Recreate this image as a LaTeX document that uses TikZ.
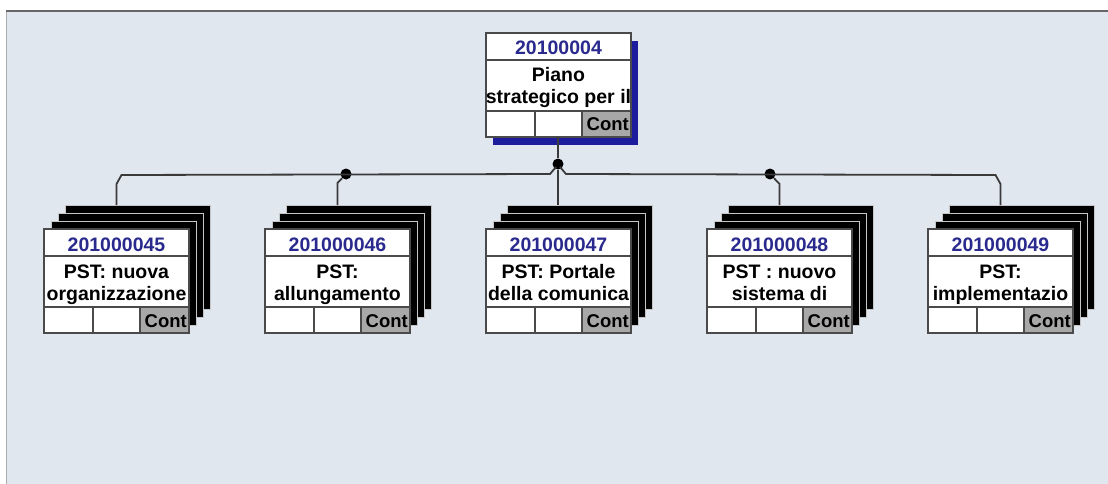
\documentclass[tikz,border=0pt]{standalone}
\usepackage{fontspec}
\setmainfont{Liberation Sans}
\usetikzlibrary{calc}
\definecolor{bgc}{HTML}{E1E7EF}
\definecolor{idblue}{HTML}{2A2A8E}
\definecolor{shadowblue}{HTML}{1C1C9C}
\definecolor{cellgrey}{HTML}{A8A8A8}
\definecolor{framegrey}{HTML}{4A4A4A}
\definecolor{wirec}{HTML}{3A3A3A}
\tikzset{
 cardbox/.style={draw=framegrey, line width=1.5pt, fill=white, minimum width=145pt, minimum height=104pt, inner sep=0pt, outer sep=0pt, anchor=north west},
 stackbox/.style={draw=gray!45, line width=0.7pt, fill=black, minimum width=145pt, minimum height=104pt, inner sep=0pt, outer sep=0pt, anchor=north west},
 shadowbox/.style={fill=shadowblue, minimum width=145pt, minimum height=104pt, inner sep=0pt, outer sep=0pt, anchor=north west},
 idtext/.style={font=\bfseries\fontsize{19.5}{22}\selectfont, text=idblue, anchor=base, inner sep=0pt},
 bodytext/.style={font=\bfseries\fontsize{19.5}{22}\selectfont, anchor=base, inner sep=0pt},
 conttext/.style={font=\bfseries\fontsize{18.5}{20}\selectfont, anchor=base east, inner sep=0pt},
 divline/.style={draw=framegrey, line width=1.2pt},
 wire/.style={draw=wirec, line width=1.8pt},
 jdot/.style={circle, fill=black, minimum size=11pt, inner sep=0pt},
}
\newcommand\drawcard[6]{%
 \node[cardbox] (#1) at (#2,#3) {};
 \fill[cellgrey] ($(#1.south east)+(-49,-26)$) rectangle (#1.south east);
 \draw[divline] ($(#1.north west)+(0,27)$) -- ($(#1.north east)+(0,27)$);
 \draw[divline] ($(#1.south west)+(0,-26)$) -- ($(#1.south east)+(0,-26)$);
 \draw[divline] ($(#1.south west)+(49,-26)$) -- ($(#1.south west)+(49,0)$);
 \draw[divline] ($(#1.south west)+(96,-26)$) -- ($(#1.south west)+(96,0)$);
 \draw[framegrey, line width=1.5pt] (#1.north west) rectangle (#1.south east);
 \node[idtext] (#1-id) at ($(#1.north)+(0,22)$) {#4};
 \node[bodytext] (#1-a) at ($(#1.north)+(0,49)$) {#5};
 \node[bodytext] (#1-b) at ($(#1.north)+(0,71)$) {#6};
 \node[conttext] (#1-c) at ($(#1.south east)+(-2,-6)$) {Cont};
}
\newcommand\drawstack[3]{%
 \node[stackbox] (#1s3) at (#2+21,#3-24) {};
 \node[stackbox] (#1s2) at (#2+14,#3-16) {};
 \node[stackbox] (#1s1) at (#2+7,#3-8) {};
}
\begin{document}
\begin{tikzpicture}[x=1pt,y=-1pt]
\useasboundingbox (0,0) rectangle (1108,484);
\fill[white] (0,0) rectangle (1108,484);
\fill[bgc] (6,11) rectangle (1108,484);
\draw[gray!65, line width=0.8pt] (6,11) -- (6,484);
\draw[gray!80!black, line width=1.6pt] (6,11) -- (1108,11);

% top card
\node[shadowbox] (topsh) at (493,41) {};
\drawcard{top}{486}{33}{20100004}{Piano}{strategico per il}

% children
\drawstack{ca}{44}{229}
\drawcard{ca}{44}{229}{201000045}{PST: nuova}{organizzazione}
\drawstack{cb}{265}{229}
\drawcard{cb}{265}{229}{201000046}{PST:}{allungamento}
\drawstack{cc}{486}{229}
\drawcard{cc}{486}{229}{201000047}{PST: Portale}{della comunica}
\drawstack{cd}{707}{229}
\drawcard{cd}{707}{229}{201000048}{PST : nuovo}{sistema di}
\drawstack{ce}{928}{229}
\drawcard{ce}{928}{229}{201000049}{PST:}{implementazio}

% junction dots
\node[jdot] (dC) at (558,164) {};
\node[jdot] (dB) at (346,174) {};
\node[jdot] (dD) at (770,174) {};

% connectors
\draw[wire] (top.south -| dC) -- (dC);
\draw[wire] (dC) -- (dC |- ccs3.north);
\draw[wire] (ca.north |- cas3.north) -- ++(0,-21) -- ++(5,-9) -- (550,174) -- (556,167) -- (dC);
\draw[wire] (ce.north |- ces3.north) -- ++(0,-21) -- ++(-5,-9) -- (566,174) -- (560,167) -- (dC);
\draw[wire] (cb.north |- cbs3.north) -- ++(0,-22) -- (dB);
\draw[wire] (cd.north |- cds3.north) -- ++(0,-21) -- (dD);
\end{tikzpicture}
\end{document}
